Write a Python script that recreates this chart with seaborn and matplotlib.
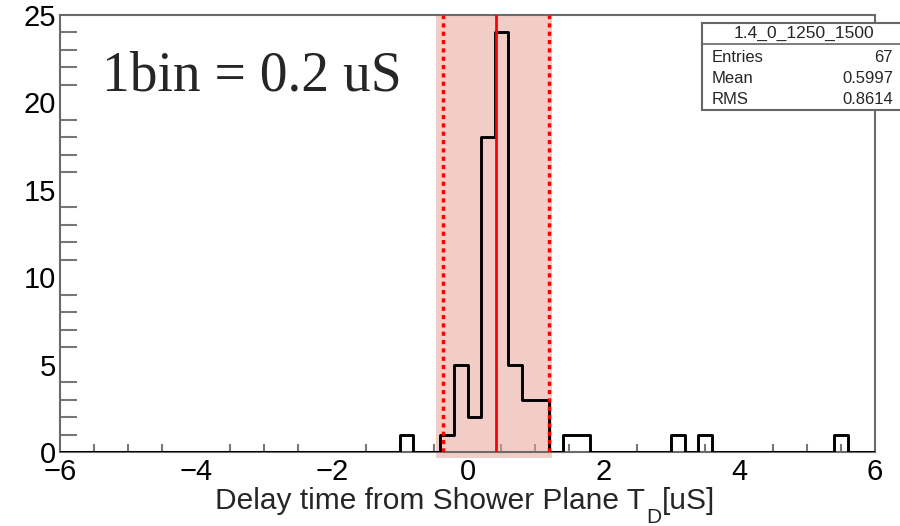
import numpy as np
import pandas as pd
import matplotlib
matplotlib.use("Agg")
import matplotlib.pyplot as plt
import seaborn as sns
from matplotlib.ticker import MultipleLocator
from matplotlib.patches import Rectangle

# ---- data ----
bin_width = 0.2
x_range = (-6.0, 6.0)
bin_centers = [-0.9, -0.3, -0.1, 0.1, 0.3, 0.5, 0.7, 0.9, 1.1, 1.5, 1.7, 3.1, 3.5, 5.5]
bin_counts = [1, 1, 5, 2, 18, 24, 5, 3, 3, 1, 1, 1, 1, 1]
y_range = (0, 25)
band_lo, band_hi = -0.46, 1.24
dotted_lines = [-0.36, 1.2]
solid_line = 0.42
stats_title = "1.4_0_1250_1500"
stats_names = ["Entries", "Mean", "RMS"]
stats_values = ["67", "0.5997", "0.8614"]
annotation = "1bin = 0.2 uS"
xlabel_main = "Delay time from Shower Plane T"
xlabel_sub = "D"
xlabel_tail = "[uS]"

df = pd.DataFrame({"t": bin_centers, "n": bin_counts})

sns.set_theme(style="white")
plt.rcParams["font.family"] = ["Liberation Sans", "DejaVu Sans"]

fig = plt.figure(figsize=(9, 5.26), dpi=100)
ax = fig.add_axes([60 / 900, 1 - 452 / 526, 815 / 900, 437 / 526])

band = Rectangle((band_lo, -0.35), band_hi - band_lo, y_range[1] + 0.35,
                 facecolor="#e8a59c", alpha=0.55, lw=0, zorder=1, clip_on=False)
ax.add_patch(band)
sns.histplot(data=df, x="t", weights="n", binwidth=bin_width, binrange=x_range,
             element="step", fill=False, color="black", linewidth=2.1, ax=ax, zorder=3)
for xv in dotted_lines:
    ax.axvline(xv, color="red", lw=2.5, ls=(0, (1.2, 1.2)), zorder=4)
ax.axvline(solid_line, color="red", lw=2, zorder=4)

ax.set_xlim(*x_range)
ax.set_ylim(*y_range)
ax.xaxis.set_major_locator(MultipleLocator(2))
ax.xaxis.set_minor_locator(MultipleLocator(0.5))
ax.yaxis.set_major_locator(MultipleLocator(5))
ax.yaxis.set_minor_locator(MultipleLocator(1))
ax.tick_params(which="both", direction="in", colors="#777777", labelcolor="black",
               labelsize=21, width=1.5)
ax.tick_params(axis="x", which="major", length=12, pad=4.5, top=False)
ax.tick_params(axis="x", which="minor", length=6, top=False, bottom=True)
ax.tick_params(axis="y", which="major", length=24, pad=3)
ax.tick_params(axis="y", which="minor", length=12, left=True)
for s in ax.spines.values():
    s.set_color("#6a6a6a")
    s.set_linewidth(1.5)
ax.set_ylabel("")
ax.set_xlabel("")

# x-axis title, ROOT style with a low subscript
fig.canvas.draw()
renderer = fig.canvas.get_renderer()
t_main = fig.text(215 / 900, 1 - 509 / 526, xlabel_main, fontsize=21.5,
                  ha="left", va="baseline")
w_main = t_main.get_window_extent(renderer).width
t_sub = fig.text(215 / 900 + (w_main + 1) / 900, 1 - 523 / 526, xlabel_sub,
                 fontsize=15, ha="left", va="baseline")
w_sub = t_sub.get_window_extent(renderer).width
fig.text(215 / 900 + (w_main + w_sub + 2) / 900, 1 - 509 / 526, xlabel_tail,
         fontsize=21.5, ha="left", va="baseline")

ax.text(0.0515, 0.828, annotation, transform=ax.transAxes, fontsize=40,
        family=["Liberation Serif", "DejaVu Serif"], va="baseline", ha="left")

# stats box
bx0, by0, by1 = 702 / 900, 1 - 110 / 526, 1 - 23 / 526
fig.patches.append(Rectangle((bx0, by0), 0.3, by1 - by0, transform=fig.transFigure,
                             facecolor="white", edgecolor="#666666", lw=1.5, zorder=10))
fig.lines.append(plt.Line2D([bx0, 1.0], [1 - 44 / 526] * 2, transform=fig.transFigure,
                            color="#666666", lw=1.2, zorder=11))
fig.text((702 + 905) / 2 / 900, 1 - 33 / 526, stats_title, ha="center", va="center",
         fontsize=12.5, zorder=12)
for i, (n, v) in enumerate(zip(stats_names, stats_values)):
    yy = 1 - (57 + i * 21.5) / 526
    fig.text(712 / 900, yy, n, ha="left", va="center", fontsize=12, zorder=12)
    fig.text(893 / 900, yy, v, ha="right", va="center", fontsize=12, zorder=12)

fig.savefig("out.png", dpi=100)
